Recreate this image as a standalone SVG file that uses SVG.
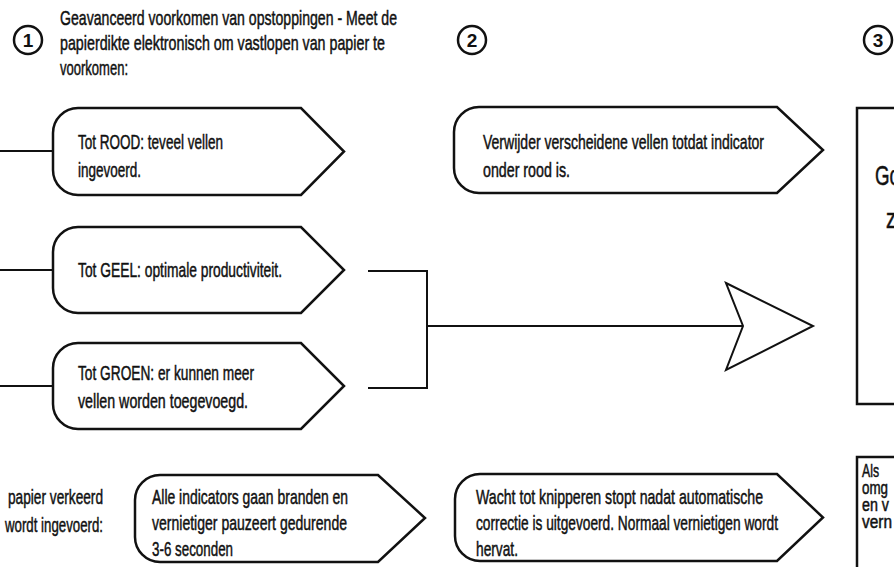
<svg xmlns="http://www.w3.org/2000/svg" width="894" height="567" viewBox="0 0 894 567">
<style>
.t{font-family:"Liberation Sans",Arial,sans-serif;font-size:21px;fill:#111;stroke:#111;stroke-width:0.5}
.s{font-size:18px}
.box{fill:#fff;stroke:#111;stroke-width:2.5;stroke-linejoin:miter}
.conn{fill:none;stroke:#111;stroke-width:2}
.circ{fill:#fff;stroke:#111;stroke-width:2.5}
.num{font-family:"Liberation Sans",Arial,sans-serif;font-size:19px;font-weight:bold;fill:#111}
</style>
<rect width="894" height="567" fill="#fff"/>
<g id="step1">
<circle class="circ" cx="28" cy="40" r="14"/>
<text class="num" x="28" y="47" text-anchor="middle">1</text>
<text class="t" x="60" y="25" textLength="337" lengthAdjust="spacingAndGlyphs">Geavanceerd voorkomen van opstoppingen - Meet de</text>
<text class="t" x="60" y="50" textLength="325" lengthAdjust="spacingAndGlyphs">papierdikte elektronisch om vastlopen van papier te</text>
<text class="t" x="60" y="75" textLength="68" lengthAdjust="spacingAndGlyphs">voorkomen:</text>
</g>
<g id="step2">
<circle class="circ" cx="472" cy="40" r="14"/>
<text class="num" x="472" y="47" text-anchor="middle">2</text>
</g>
<g id="step3">
<circle class="circ" cx="878" cy="40" r="14"/>
<text class="num" x="878" y="47" text-anchor="middle">3</text>
</g>
<g id="connectors">
<line class="conn" x1="0" y1="151" x2="53" y2="151"/>
<line class="conn" x1="0" y1="270" x2="53" y2="270"/>
<line class="conn" x1="0" y1="386" x2="53" y2="386"/>
<polyline class="conn" points="368,271 427,271 427,388 368,388"/>
<line class="conn" x1="427" y1="326" x2="744" y2="326"/>
<polygon class="box" style="stroke-width:2" points="726,283 813,326 726,370 743,326"/>
</g>
<g id="rood">
<path class="box" d="M78,108 H301 L344,151.5 L301,195 H78 A25,25 0 0 1 53,170 V133 A25,25 0 0 1 78,108 Z"/>
<text class="t" x="78" y="149" textLength="145" lengthAdjust="spacingAndGlyphs">Tot ROOD: teveel vellen</text>
<text class="t" x="78" y="177" textLength="63" lengthAdjust="spacingAndGlyphs">ingevoerd.</text>
</g>
<g id="geel">
<path class="box" d="M78,227 H301 L344,270 L301,313 H78 A25,25 0 0 1 53,288 V252 A25,25 0 0 1 78,227 Z"/>
<text class="t" x="78" y="277" textLength="204" lengthAdjust="spacingAndGlyphs">Tot GEEL: optimale productiviteit.</text>
</g>
<g id="groen">
<path class="box" d="M78,343 H301 L344,386 L301,429 H78 A25,25 0 0 1 53,404 V368 A25,25 0 0 1 78,343 Z"/>
<text class="t" x="78" y="380" textLength="176" lengthAdjust="spacingAndGlyphs">Tot GROEN: er kunnen meer</text>
<text class="t" x="78" y="408" textLength="170" lengthAdjust="spacingAndGlyphs">vellen worden toegevoegd.</text>
</g>
<g id="verwijder">
<path class="box" d="M479,107 H777 L823,150 L777,193 H479 A25,25 0 0 1 454,168 V132 A25,25 0 0 1 479,107 Z"/>
<text class="t" x="483" y="149" textLength="281" lengthAdjust="spacingAndGlyphs">Verwijder verscheidene vellen totdat indicator</text>
<text class="t" x="483" y="177" textLength="87" lengthAdjust="spacingAndGlyphs">onder rood is.</text>
</g>
<g id="result">
<rect class="box" x="857" y="108" width="80" height="296"/>
<text class="t" x="875" y="185" style="font-size:28px" textLength="25" lengthAdjust="spacingAndGlyphs">Go</text>
<text class="t" x="886" y="228" style="font-size:28px" textLength="10" lengthAdjust="spacingAndGlyphs">z</text>
</g>
<g id="misfeed">
<text class="t" x="103" y="504" text-anchor="end" textLength="95" lengthAdjust="spacingAndGlyphs">papier verkeerd</text>
<text class="t" x="103" y="532" text-anchor="end" textLength="98" lengthAdjust="spacingAndGlyphs">wordt ingevoerd:</text>
</g>
<g id="alle">
<path class="box" d="M160,475 H378 L425,518 L378,562 H160 A25,25 0 0 1 135,537 V500 A25,25 0 0 1 160,475 Z"/>
<text class="t" x="152" y="504" textLength="196" lengthAdjust="spacingAndGlyphs">Alle indicators gaan branden en</text>
<text class="t" x="152" y="530" textLength="195" lengthAdjust="spacingAndGlyphs">vernietiger pauzeert gedurende</text>
<text class="t" x="152" y="556" textLength="81" lengthAdjust="spacingAndGlyphs">3-6 seconden</text>
</g>
<g id="wacht">
<path class="box" d="M480,474 H777 L823,517.5 L777,561 H480 A25,25 0 0 1 455,536 V499 A25,25 0 0 1 480,474 Z"/>
<text class="t" x="476" y="504" textLength="287" lengthAdjust="spacingAndGlyphs">Wacht tot knipperen stopt nadat automatische</text>
<text class="t" x="476" y="530" textLength="302" lengthAdjust="spacingAndGlyphs">correctie is uitgevoerd. Normaal vernietigen wordt</text>
<text class="t" x="476" y="556" textLength="42" lengthAdjust="spacingAndGlyphs">hervat.</text>
</g>
<g id="als">
<rect class="box" x="857" y="457" width="80" height="140"/>
<text class="t s" x="862" y="477" textLength="17" lengthAdjust="spacingAndGlyphs">Als</text>
<text class="t s" x="862" y="494" textLength="26" lengthAdjust="spacingAndGlyphs">omg</text>
<text class="t s" x="862" y="511" textLength="27" lengthAdjust="spacingAndGlyphs">en v</text>
<text class="t s" x="862" y="528" textLength="30" lengthAdjust="spacingAndGlyphs">vern</text>
</g>
</svg>
